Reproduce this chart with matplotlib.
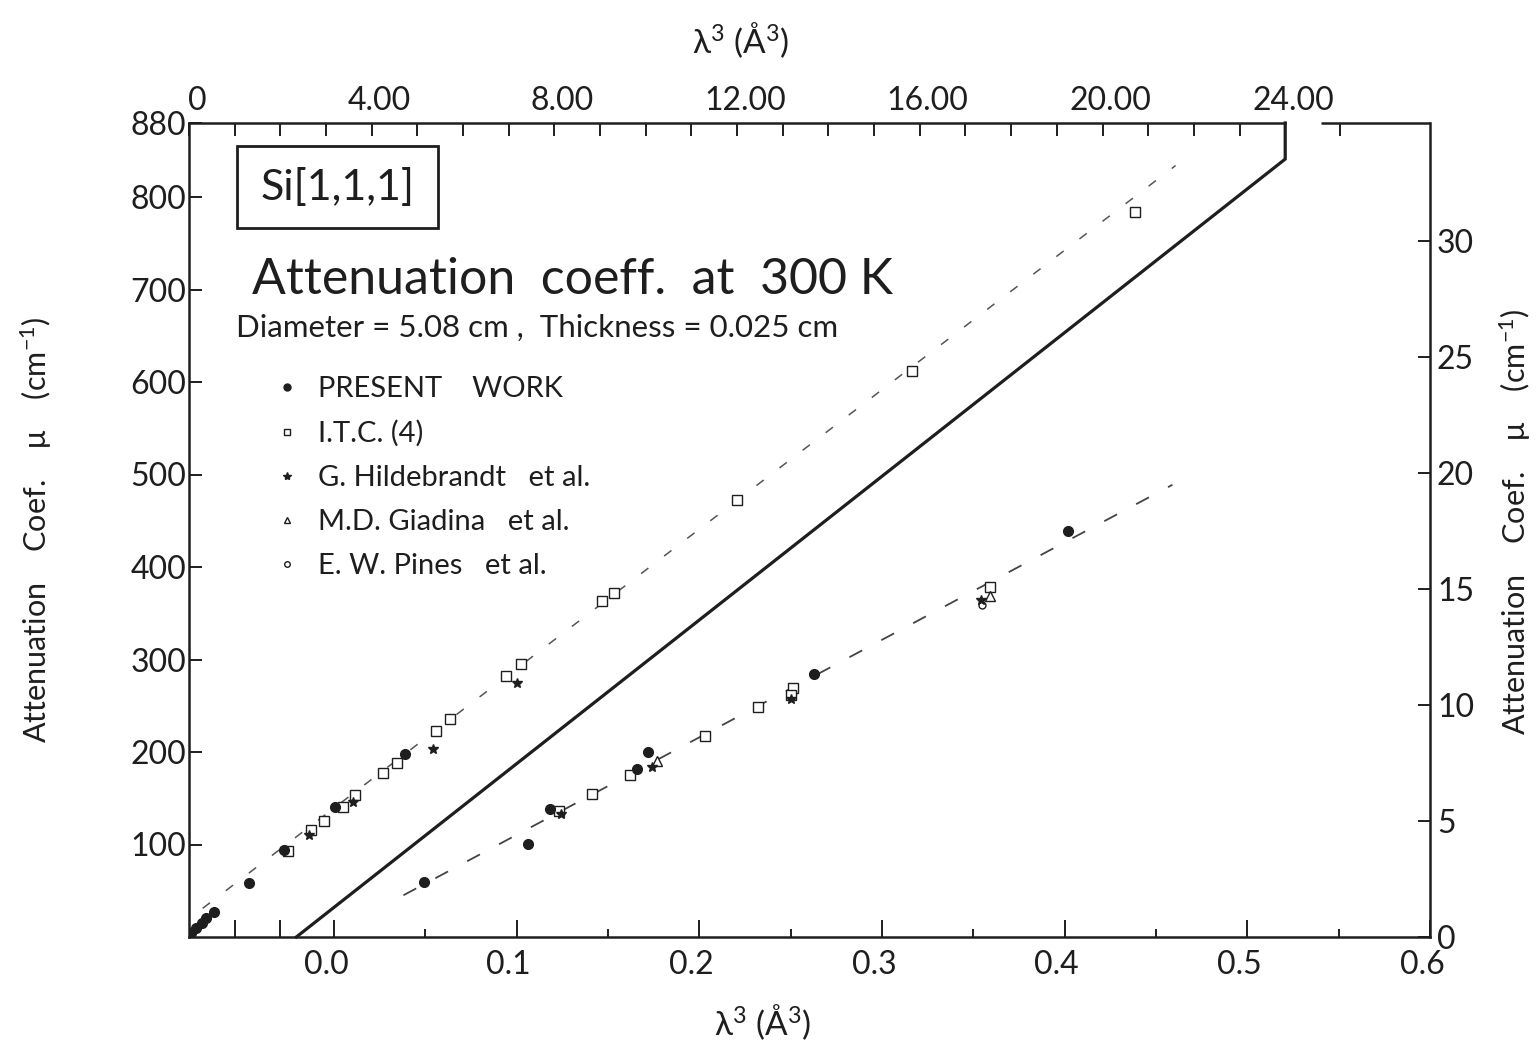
import matplotlib
matplotlib.use("Agg")
import matplotlib.pyplot as plt
from matplotlib.lines import Line2D
from matplotlib.patches import Rectangle
import matplotlib.transforms as mtransforms

plt.rcParams['font.family'] = ['Lato', 'DejaVu Sans']
plt.rcParams['mathtext.fontset'] = 'custom'
plt.rcParams['mathtext.rm'] = 'Lato'
plt.rcParams['mathtext.it'] = 'Lato:italic'

INK = '#1e1e1e'

# ---------------- data ----------------
# Upper set: lambda^3 on the TOP axis (A^3) vs mu on the LEFT axis (cm^-1)
up_present_x = [0.04, 0.15, 0.28, 0.37, 0.55, 1.31, 2.08, 3.19, 4.73]
up_present_y = [4, 10, 15, 21, 27, 58, 94, 141, 198]
up_itc_x = [2.17, 2.67, 2.95, 3.37, 3.63, 4.25, 4.55, 5.40, 5.71, 6.94, 7.26,
            9.04, 9.30, 12.0, 15.82, 20.72]
up_itc_y = [93, 116, 125, 141, 154, 177, 188, 223, 236, 282, 295,
            363, 372, 472, 612, 784]
up_hild_x = [2.63, 3.59, 5.34, 7.18]
up_hild_y = [110, 146, 203, 275]
up_fit_x = [0.3, 21.6]
up_fit_y = [31, 834]

# Lower set: lambda^3 on the BOTTOM axis (A^3) vs mu on the RIGHT axis (cm^-1)
lo_present_x = [0.049, 0.106, 0.118, 0.166, 0.172, 0.263, 0.402]
lo_present_y = [2.37, 4.0, 5.5, 7.23, 7.96, 11.35, 17.5]
lo_itc_x = [0.123, 0.141, 0.162, 0.203, 0.232, 0.251, 0.250, 0.359]
lo_itc_y = [5.42, 6.15, 7.0, 8.65, 9.9, 10.75, 10.45, 15.1]
lo_hild_x = [0.124, 0.174, 0.250, 0.354]
lo_hild_y = [5.3, 7.35, 10.25, 14.55]
lo_giad_x = [0.177, 0.359]
lo_giad_y = [7.6, 14.7]
lo_pines_x = [0.355]
lo_pines_y = [14.3]
lo_fit_x = [0.038, 0.459]
lo_fit_y = [1.8, 19.5]

# separator line (top-axis / left-axis coordinates)
sep_x = [2.35, 24.0, 24.0]
sep_y = [0, 841, 880]

# ticks
left_ticks = [100, 200, 300, 400, 500, 600, 700, 800, 880]
right_ticks = [0, 5, 10, 15, 20, 25, 30]
bottom_ticks = [0.0, 0.1, 0.2, 0.3, 0.4, 0.5, 0.6]
bottom_minor = [0.05, 0.15, 0.25, 0.35, 0.45, 0.55]
top_ticks = [0, 4, 8, 12, 16, 20, 24]
top_labels = ['0', '4.00', '8.00', '12.00', '16.00', '20.00', '24.00']

legend_labels = ['PRESENT    WORK', 'I.T.C. (4)', 'G. Hildebrandt   et al.',
                 'M.D. Giadina   et al.', 'E. W. Pines   et al.']

# ---------------- figure ----------------
W, H = 1540, 1051
fig = plt.figure(figsize=(W / 100, H / 100), dpi=100)
fx = lambda px: px / W
fy = lambda py: 1 - py / H

x0, x1, y0, y1 = 189, 1430, 123, 937
ax = fig.add_axes([fx(x0), fy(y1), (x1 - x0) / W, (y1 - y0) / H])
ax.set_xlim(-0.0794, 0.6)
ax.set_ylim(0, 880)
axR = ax.twinx()
axR.set_ylim(0, 35.1)
axT = ax.twiny()
axT.set_xlim(0, 27.17)

SLW = 1.8
for a in (ax, axR, axT):
    for s in a.spines.values():
        s.set_visible(False)
        s.set_linewidth(SLW)
        s.set_color(INK)
ax.spines['left'].set_visible(True)
ax.spines['bottom'].set_visible(True)
axR.spines['right'].set_visible(True)
axT.spines['top'].set_visible(True)
axT.spines['top'].set_bounds(0, 24.0)
axT.plot([24.79, 27.17], [880, 880], color=INK, lw=SLW, clip_on=False,
         solid_capstyle='butt')

TLS = 23
# left axis ticks
ax.set_yticks(left_ticks)
ax.set_yticklabels([str(v) for v in left_ticks])
ax.tick_params(axis='y', direction='in', length=9, width=1.4, labelsize=TLS,
               pad=2, colors=INK)
# bottom axis ticks
ax.set_xticks(bottom_ticks + [-0.0544, -0.0294])
ax.set_xticklabels(['%.1f' % v for v in bottom_ticks] + ['', ''])
ax.set_xticks(bottom_minor, minor=True)
ax.tick_params(axis='x', which='major', direction='in', length=12, width=1.4,
               labelsize=TLS, pad=9, colors=INK)
ax.tick_params(axis='x', which='minor', direction='in', length=6, width=1.4,
               colors=INK)
# right axis ticks
axR.set_yticks(right_ticks)
axR.set_yticklabels([str(v) for v in right_ticks])
axR.tick_params(axis='y', direction='in', length=9, width=1.4, labelsize=TLS,
                pad=5, colors=INK)
# top axis ticks
axT.set_xticks(top_ticks)
axT.set_xticklabels(top_labels)
axT.set_xticks([t for t in range(1, 24) if t % 4] + [25.2], minor=True)
axT.tick_params(axis='x', which='both', direction='in', length=9, width=1.4,
                labelsize=TLS, pad=5, colors=INK)

off_b = mtransforms.ScaledTranslation(-0.08, 0, fig.dpi_scale_trans)
for lab in ax.get_xticklabels():
    lab.set_transform(lab.get_transform() + off_b)
off_t = mtransforms.ScaledTranslation(0.08, 0, fig.dpi_scale_trans)
for lab in axT.get_xticklabels():
    lab.set_transform(lab.get_transform() + off_t)

# ---------------- marks ----------------
axT.plot(sep_x, sep_y, color=INK, lw=2.3, clip_on=False, solid_joinstyle='miter')
axT.plot(up_fit_x, up_fit_y, color='#555555', lw=1.1, ls=(0, (6, 13)))
axR.plot(lo_fit_x, lo_fit_y, color='#444444', lw=1.3, ls=(0, (8, 12)))

mk = dict(ls='none', color=INK)
axT.plot(up_itc_x, up_itc_y, marker='s', ms=6.5, mfc='white', mec=INK, mew=1.0, **mk)
axT.plot(up_hild_x, up_hild_y, marker='*', ms=7, **mk)
axT.plot(up_present_x, up_present_y, marker='o', ms=7, **mk)

axR.plot(lo_itc_x, lo_itc_y, marker='s', ms=6.5, mfc='white', mec=INK, mew=1.0, **mk)
axR.plot(lo_giad_x, lo_giad_y, marker='^', ms=7, mfc='white', mec=INK, mew=1.0, **mk)
axR.plot(lo_pines_x, lo_pines_y, marker='o', ms=5, mfc='white', mec=INK, mew=1.0, **mk)
axR.plot(lo_hild_x, lo_hild_y, marker='*', ms=7, **mk)
axR.plot(lo_present_x, lo_present_y, marker='o', ms=7, **mk)

# ---------------- legend ----------------
handles = [
    Line2D([], [], ls='none', marker='o', ms=5, color=INK),
    Line2D([], [], ls='none', marker='s', ms=4.5, mfc='white', mec=INK, mew=1.0),
    Line2D([], [], ls='none', marker='*', ms=6, color=INK),
    Line2D([], [], ls='none', marker='^', ms=4.5, mfc='white', mec=INK, mew=1.0),
    Line2D([], [], ls='none', marker='o', ms=4, mfc='white', mec=INK, mew=1.0),
]
leg = axT.legend(handles, legend_labels, loc='upper left',
                 bbox_to_anchor=(fx(280), fy(376)), bbox_transform=fig.transFigure,
                 frameon=False, fontsize=21, handlelength=0.5, handletextpad=0.8,
                 labelspacing=0.62, borderpad=0, borderaxespad=0)
for t in leg.get_texts():
    t.set_color(INK)

# ---------------- text ----------------
fig.patches.append(Rectangle((fx(237), fy(228)), (438 - 237) / W, (228 - 146) / H,
                             transform=fig.transFigure, fill=False, ec=INK, lw=2.0))
fig.text(fx(338), fy(188), 'Si[1,1,1]', fontsize=31, ha='center', va='center', color=INK)
fig.text(fx(252), fy(280), 'Attenuation  coeff.  at  300 K', fontsize=36,
         ha='left', va='center', color=INK)
fig.text(fx(236), fy(328), 'Diameter = 5.08 cm ,  Thickness = 0.025 cm', fontsize=22.5,
         ha='left', va='center', color=INK)

ylab = 'Attenuation    Coef.    μ    (cm$^{-1}$)'
fig.text(fx(36), fy(530), ylab, rotation=90,
         fontsize=22, ha='center', va='center', color=INK)
fig.text(fx(1515), fy(522), ylab, rotation=90,
         fontsize=22, ha='center', va='center', color=INK)
fig.text(fx(762), fy(1022), 'λ$^{3}$ (Å$^{3}$)', fontsize=24, ha='center',
         va='center', color=INK)
fig.text(fx(740), fy(40), 'λ$^{3}$ (Å$^{3}$)', fontsize=24, ha='center',
         va='center', color=INK)

fig.savefig('out.png', dpi=100, facecolor='white')
